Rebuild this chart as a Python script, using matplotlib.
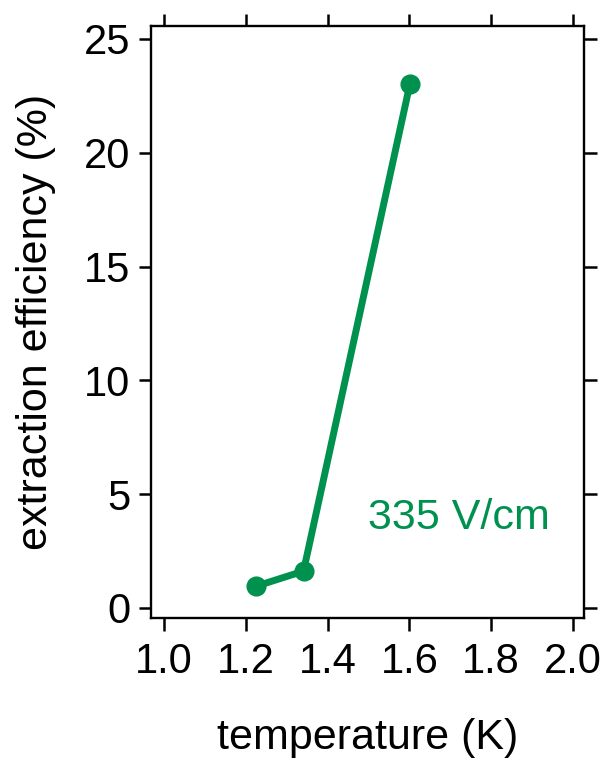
import matplotlib
matplotlib.use("Agg")
import matplotlib.pyplot as plt

temperature = [1.224, 1.341, 1.601]
efficiency = [0.95, 1.62, 23.0]
xticks = [1.0, 1.2, 1.4, 1.6, 1.8, 2.0]
yticks = [0, 5, 10, 15, 20, 25]
label_text = "335 V/cm"
green = "#00914F"

plt.rcParams['font.family'] = ['Liberation Sans', 'DejaVu Sans']

fig = plt.figure(figsize=(6.07, 7.59), dpi=100)
ax = fig.add_axes([151/607, 1-618/759, 433/607, 592/759])

ax.plot(temperature, efficiency, color=green, lw=5, marker='o', ms=13.5,
        solid_capstyle='round')

ax.set_xlim(0.968, 2.027)
ax.set_ylim(-0.44, 25.57)
ax.set_xticks(xticks)
ax.set_xticklabels([f"{v:.1f}" for v in xticks])
ax.set_yticks(yticks)
ax.set_yticklabels([str(v) for v in yticks])

for s in ax.spines.values():
    s.set_linewidth(1.7)
ax.tick_params(axis='both', which='major', direction='out', length=9, width=1.8,
               labelsize=30, pad=6, top=True, right=True, color='black')
ax.tick_params(axis='x', pad=8)

ax.set_xlabel("temperature (K)", fontsize=31, labelpad=26)
ax.set_ylabel("extraction efficiency (%)", fontsize=31, labelpad=20)

ax.text(1.721, 3.95, label_text, color=green, fontsize=31,
        ha='center', va='center', transform=ax.transData)

fig.savefig("out.png", dpi=100)
